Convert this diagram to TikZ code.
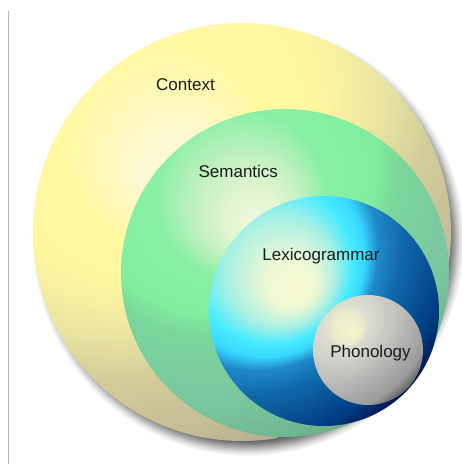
\documentclass[tikz,border=0pt]{standalone}
\usepackage{fontspec}
\setmainfont{Liberation Sans}

% colour stops of the four spheres
\definecolor{ctxA}{HTML}{FDFCE6}
\definecolor{ctxB}{HTML}{FCF8D0}
\definecolor{ctxC}{HTML}{FEF8B4}
\definecolor{ctxD}{HTML}{FFF9A2}
\definecolor{ctxE}{HTML}{FFF6A0}
\definecolor{ctxF}{HTML}{E8E2A0}
\definecolor{ctxG}{HTML}{D4CC9A}
\definecolor{ctxH}{HTML}{C6BE96}
\definecolor{ctxI}{HTML}{BAB390}
\definecolor{ctxJ}{HTML}{B5AE8E}

\definecolor{semA}{HTML}{F2FAE4}
\definecolor{semB}{HTML}{E0F5D0}
\definecolor{semC}{HTML}{C0F0C0}
\definecolor{semD}{HTML}{88F0A4}
\definecolor{semE}{HTML}{80EE9E}
\definecolor{semF}{HTML}{7AD69A}
\definecolor{semG}{HTML}{7CC8A0}
\definecolor{semH}{HTML}{78C49A}
\definecolor{semI}{HTML}{6EB68E}
\definecolor{semJ}{HTML}{6AAE8A}

\definecolor{lexA}{HTML}{F8F8D0}
\definecolor{lexB}{HTML}{EEF8D4}
\definecolor{lexC}{HTML}{A8F0E4}
\definecolor{lexD}{HTML}{48ECFF}
\definecolor{lexE}{HTML}{38D8FF}
\definecolor{lexF}{HTML}{2088C8}
\definecolor{lexG}{HTML}{1068A8}
\definecolor{lexH}{HTML}{003A80}
\definecolor{lexI}{HTML}{001850}
\definecolor{lexJ}{HTML}{001040}

\definecolor{phoA}{HTML}{F4F4CC}
\definecolor{phoB}{HTML}{ECECCC}
\definecolor{phoC}{HTML}{DCDCD0}
\definecolor{phoD}{HTML}{D2D2CC}
\definecolor{phoE}{HTML}{B6B6B4}
\definecolor{phoF}{HTML}{9A9A9A}
\definecolor{phoG}{HTML}{707070}
\definecolor{phoH}{HTML}{585858}
\definecolor{phoI}{HTML}{505050}

\definecolor{shdA}{HTML}{505050}
\definecolor{shdB}{HTML}{6A6A6A}
\definecolor{shdC}{HTML}{A0A0A0}
\definecolor{shdD}{HTML}{D8D8D8}

\definecolor{labeltext}{HTML}{1A1A1A}
\definecolor{rulegray}{HTML}{B4B4B4}

% sphere glows: the inner point of each shading is the highlight,
% the outer circle sits up and to the left so the far side darkens sooner
\pgfdeclareradialshading{ctxglow}{\pgfpoint{130pt}{-225.2pt}}{%
  color(0pt)=(ctxA); color(40pt)=(ctxB); color(75pt)=(ctxC);
  color(100pt)=(ctxD); color(170pt)=(ctxE); color(266pt)=(ctxF);
  color(332pt)=(ctxG); color(437pt)=(ctxH); color(500pt)=(ctxI);
  color(520pt)=(ctxJ)}
\pgfdeclareradialshading{semglow}{\pgfpoint{105pt}{-181.9pt}}{%
  color(0pt)=(semA); color(30pt)=(semB); color(55pt)=(semC);
  color(85pt)=(semD); color(150pt)=(semE); color(184pt)=(semF);
  color(280pt)=(semG); color(322pt)=(semH); color(395pt)=(semI);
  color(420pt)=(semJ)}
\pgfdeclareradialshading{lexglow}{\pgfpoint{113.1pt}{-113.1pt}}{%
  color(0pt)=(lexA); color(25pt)=(lexB); color(55pt)=(lexC);
  color(80pt)=(lexD); color(100pt)=(lexE); color(121pt)=(lexF);
  color(160pt)=(lexG); color(248pt)=(lexH); color(290pt)=(lexI);
  color(320pt)=(lexJ)}
\pgfdeclareradialshading{phoglow}{\pgfpoint{60.1pt}{-60.1pt}}{%
  color(0pt)=(phoA); color(15pt)=(phoB); color(22pt)=(phoC);
  color(40pt)=(phoD); color(85pt)=(phoE); color(134pt)=(phoF);
  color(150pt)=(phoG); color(160pt)=(phoH); color(170pt)=(phoI)}
% soft drop shadow
\pgfdeclareradialshading{shadowglow}{\pgfpoint{0pt}{0pt}}{%
  color(0pt)=(shdA); color(196pt)=(shdA); color(201pt)=(shdB);
  color(206pt)=(shdC); color(211pt)=(shdD); color(216pt)=(white);
  color(230pt)=(white)}

\tikzset{
  sphere/.style={circle, inner sep=0pt, outer sep=0pt, draw=none},
  glow/.style={inner sep=0pt, outer sep=0pt},
  layerlabel/.style={anchor=base, inner sep=0pt, text=labeltext,
    font=\fontsize{17}{20}\selectfont},
}

\begin{document}
\begin{tikzpicture}[x=1pt, y=-1pt]
  \useasboundingbox (0,0) rectangle (462,464);
  \fill[white] (0,0) rectangle (462,464);

  % thin rule at the left margin
  \coordinate (ruletop) at (8.3,11);
  \coordinate (rulebot) at (8.3,464);
  \draw[rulegray, line width=1.1pt] (ruletop) -- (rulebot);

  % outlines of the nested spheres
  \node[sphere, minimum size=432pt] (shadow) at (248,240) {};
  \node[sphere, minimum size=418pt] (context) at (242,232) {};
  \node[sphere, minimum size=328pt] (semantics) at (285,273) {};
  \node[sphere, minimum size=230pt] (lexico) at (324,311) {};
  \node[sphere, minimum size=110pt] (phono) at (368,350) {};

  % each sphere is filled with its glow, clipped to the outline
  \begin{scope}
    \clip (shadow.center) circle (216);
    \node[glow] (shadowfill) at (shadow.center) {\pgfuseshading{shadowglow}};
  \end{scope}
  \begin{scope}
    \clip (context.center) circle (209);
    \node[glow] (contextfill) at (60,-35.2) {\pgfuseshading{ctxglow}};
  \end{scope}
  \begin{scope}
    \clip (semantics.center) circle (164);
    \node[glow] (semanticsfill) at (157,50.1) {\pgfuseshading{semglow}};
  \end{scope}
  \begin{scope}
    \clip (lexico.center) circle (115);
    \node[glow] (lexicofill) at (186.9,178.9) {\pgfuseshading{lexglow}};
  \end{scope}
  \begin{scope}
    \clip (phono.center) circle (55);
    \node[glow] (phonofill) at (292.9,272.9) {\pgfuseshading{phoglow}};
  \end{scope}

  % layer names
  \node[layerlabel] (contextlabel) at (185.5,90.7) {Context};
  \node[layerlabel] (semanticslabel) at (238.3,177.7) {Semantics};
  \node[layerlabel] (lexicolabel) at (321,260) {Lexicogrammar};
  \node[layerlabel] (phonolabel) at (370.5,357.3) {Phonology};
\end{tikzpicture}
\end{document}
